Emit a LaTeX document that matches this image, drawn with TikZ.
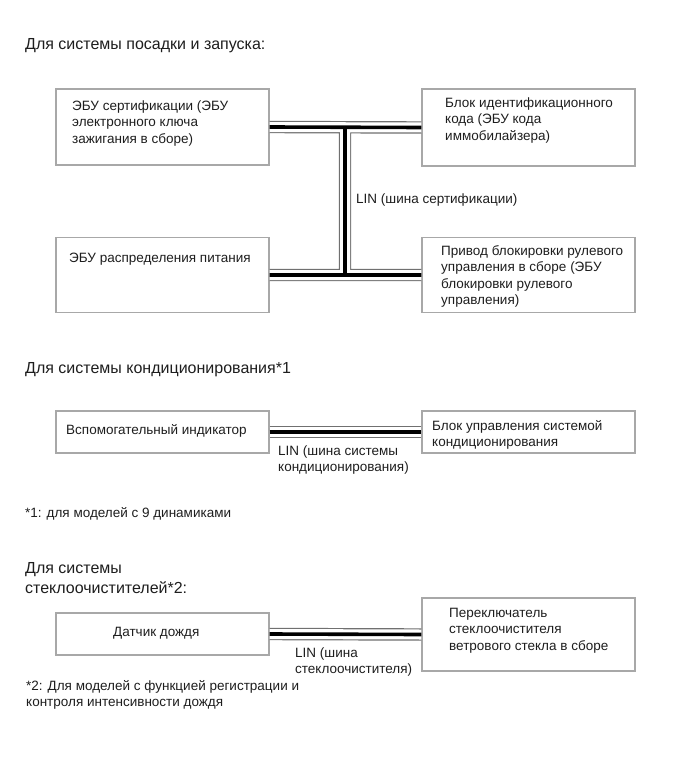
\documentclass[tikz,border=0pt]{standalone}
\usepackage{fontspec}
\setmainfont{Liberation Sans}
\definecolor{boxgray}{HTML}{A8A8A8}
\definecolor{busgray}{HTML}{707070}
\definecolor{txt}{HTML}{1E1E1E}
\tikzset{
  box/.style={draw=boxgray, line width=1.1pt, fill=white, inner sep=0pt},
  lbl/.style={anchor=base west, inner sep=0pt, align=left, text=txt, font=\fontsize{13.5}{16.5}\selectfont},
  ttl/.style={anchor=base west, inner sep=0pt, align=left, text=txt, font=\fontsize{16}{20}\selectfont},
  busouter/.style={draw=busgray, line width=12.4pt},
  businner/.style={draw=white, line width=10pt},
  buscore/.style={draw=black, line width=3.6pt}
}
\newcommand\busline[1]{\draw[busouter] #1; \draw[businner] #1; \draw[buscore] #1;}
\begin{document}
\begin{tikzpicture}[x=1pt,y=-1pt]
\useasboundingbox[fill=white] (0,0) rectangle (691,757);
% Section 1
\node[ttl] (t1) at (25,50) {Для системы посадки и запуска:};
\node[box, minimum width=213pt, minimum height=76pt] (A) at (162.5,127) {};
\node[box, minimum width=213pt, minimum height=77pt] (B) at (528.5,127.5) {};
\node[box, minimum width=213pt, minimum height=75pt] (C) at (162.5,275) {};
\node[box, minimum width=213pt, minimum height=75pt] (D) at (528.5,275) {};
\coordinate (Jt) at (345,127);
\coordinate (Jb) at (345,275);
\busline{(A.east) -- (B.west) (C.east) -- (D.west) (Jt) -- (Jb)}
\node[lbl] (a1) at (72,143) {ЭБУ сертификации (ЭБУ\\электронного ключа\\зажигания в сборе)};
\node[lbl] (b1) at (445,140) {Блок идентификационного\\кода (ЭБУ кода\\иммобилайзера)};
\node[lbl] (c1) at (69,262) {ЭБУ распределения питания};
\node[lbl] (d1) at (441,304.5) {Привод блокировки рулевого\\управления в сборе (ЭБУ\\блокировки рулевого\\управления)};
\node[lbl] (lin1) at (356,203) {LIN (шина сертификации)};
% Section 2
\node[ttl] (t2) at (25,373) {Для системы кондиционирования*1};
\node[box, minimum width=213pt, minimum height=42pt] (E) at (162.5,432) {};
\node[box, minimum width=213pt, minimum height=42pt] (F) at (528.5,432) {};
\busline{(E.east) -- (F.west)}
\node[lbl] (e1) at (66,434) {Вспомогательный индикатор};
\node[lbl] (f1) at (432,446.5) {Блок управления системой\\кондиционирования};
\node[lbl] (lin2) at (278,471.5) {LIN (шина системы\\кондиционирования)};
\node[lbl] (fn1) at (25,517) {*1: для моделей с 9 динамиками};
% Section 3
\node[ttl] (t3) at (25,593) {Для системы\\стеклоочистителей*2:};
\node[box, minimum width=213pt, minimum height=42pt] (G) at (162.5,634) {};
\node[box, minimum width=213pt, minimum height=73pt] (H) at (528.5,634.5) {};
\busline{(G.east) -- (H.west)}
\node[lbl] (g1) at (113,636) {Датчик дождя};
\node[lbl] (h1) at (449,650) {Переключатель\\стеклоочистителя\\ветрового стекла в сборе};
\node[lbl] (lin3) at (295,673.5) {LIN (шина\\стеклоочистителя)};
\node[lbl] (fn2) at (26,706.5) {*2: Для моделей с функцией регистрации и\\контроля интенсивности дождя};
\end{tikzpicture}
\end{document}
